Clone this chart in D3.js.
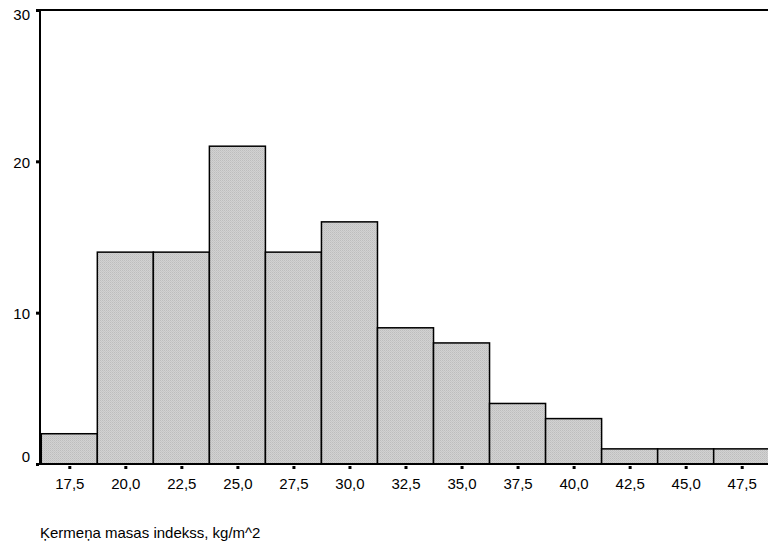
<!DOCTYPE html>
<html>
<head>
<meta charset="utf-8">
<script src="https://cdn.jsdelivr.net/npm/d3@7"></script>
<style>
  html, body { margin: 0; padding: 0; background: #fff; }
  svg { display: block; font-family: Arial, "Liberation Sans", sans-serif; }
</style>
</head>
<body>
<svg id="chart" width="768" height="548"></svg>
<script>
// Body mass index bins (bin centres) and their counts
const binCenters = [17.5, 20.0, 22.5, 25.0, 27.5, 30.0, 32.5, 35.0, 37.5, 40.0, 42.5, 45.0, 47.5];
const counts     = [2, 14, 14, 21, 14, 16, 9, 8, 4, 3, 1, 1, 1];
const yTicks     = [0, 10, 20, 30];
const binWidth   = 2.5;
const xTitle     = "Ķermeņa masas indekss, kg/m^2";

const svg = d3.select("#chart");

const x = d3.scaleLinear().domain([17.5, 47.5]).range([69.3, 741.7]);
const y = d3.scaleLinear().domain([0, 30]).range([464, 10]);
const axisX = 40;

// fine grey texture for the bars
const defs = svg.append("defs");
const pat = defs.append("pattern")
  .attr("id", "barFill").attr("patternUnits", "userSpaceOnUse")
  .attr("width", 2).attr("height", 2);
pat.append("rect").attr("width", 2).attr("height", 2).attr("fill", "#d2d2d2");
pat.append("rect").attr("width", 1).attr("height", 1).attr("fill", "#bdbdbd");
pat.append("rect").attr("x", 1).attr("y", 1).attr("width", 1).attr("height", 1).attr("fill", "#c6c6c6");

const data = binCenters.map((c, i) => ({ c, n: counts[i] }));

// bars
svg.append("g").selectAll("rect").data(data).join("rect")
  .attr("x", d => x(d.c - binWidth / 2))
  .attr("y", d => y(d.n))
  .attr("width", d => x(d.c + binWidth / 2) - x(d.c - binWidth / 2))
  .attr("height", d => y(0) - y(d.n))
  .attr("fill", "url(#barFill)")
  .attr("stroke", "#000")
  .attr("stroke-width", 1.5);

// frame: top edge, left and bottom axis lines
svg.append("line").attr("x1", axisX).attr("x2", 768).attr("y1", y(30)).attr("y2", y(30))
  .attr("stroke", "#000").attr("stroke-width", 2);
svg.append("line").attr("x1", axisX).attr("x2", axisX).attr("y1", y(30) - 1).attr("y2", y(0) + 1)
  .attr("stroke", "#000").attr("stroke-width", 2);
svg.append("line").attr("x1", axisX).attr("x2", 768).attr("y1", y(0)).attr("y2", y(0))
  .attr("stroke", "#000").attr("stroke-width", 2);

// x axis: ticks and labels
const gx = svg.append("g").attr("transform", `translate(0,${y(0)})`)
  .call(d3.axisBottom(x).tickValues(binCenters).tickSize(0).tickPadding(0)
    .tickFormat(d => d3.format(".1f")(d).replace(".", ",")));
gx.select(".domain").remove();
gx.selectAll(".tick").append("rect")
  .attr("x", -1.5).attr("y", 2).attr("width", 3).attr("height", 3).attr("fill", "#000");
gx.selectAll(".tick text")
  .attr("y", 25).attr("dy", null)
  .attr("font-size", 15).attr("fill", "#000").attr("font-family", "Arial, 'Liberation Sans', sans-serif");

// y axis: ticks and labels (end labels kept inside the axis span)
const gy = svg.append("g").attr("transform", `translate(${axisX},0)`)
  .call(d3.axisLeft(y).tickValues(yTicks).tickSize(0).tickPadding(0).tickFormat(d3.format("d")));
gy.select(".domain").remove();
gy.selectAll(".tick").append("rect")
  .attr("x", -4).attr("y", -1.5).attr("width", 3).attr("height", 3).attr("fill", "#000");
gy.selectAll(".tick text")
  .attr("x", -10)
  .attr("dy", d => d === 0 ? "-0.15em" : d === 30 ? "0.6em" : "0.4em")
  .attr("font-size", 15).attr("fill", "#000").attr("font-family", "Arial, 'Liberation Sans', sans-serif");

// axis title
svg.append("text")
  .attr("x", axisX).attr("y", 538)
  .attr("font-size", 15).attr("fill", "#000")
  .text(xTitle);
</script>
</body>
</html>
